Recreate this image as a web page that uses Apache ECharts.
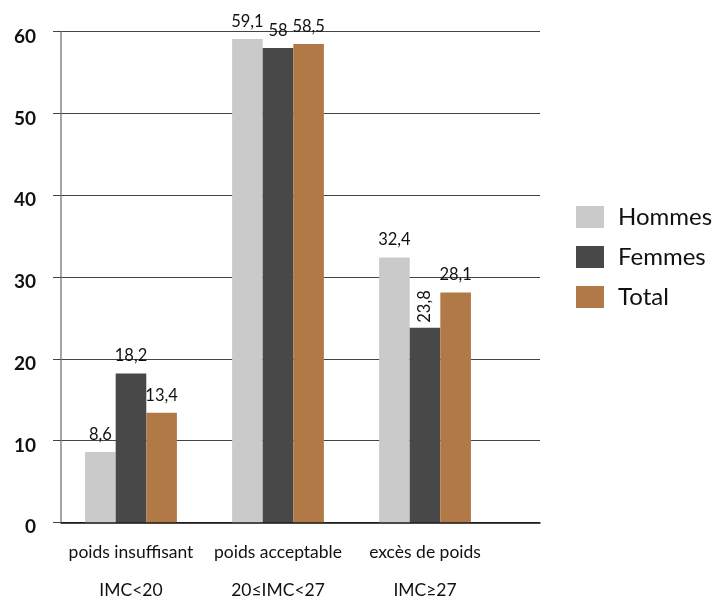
<!DOCTYPE html>
<html>
<head>
<meta charset="utf-8">
<script src="https://cdn.jsdelivr.net/npm/echarts@6/dist/echarts.min.js"></script>
<style>
  html, body { margin: 0; padding: 0; background: #fff; }
  #chart { width: 724px; height: 596px; }
</style>
</head>
<body>
<div id="chart"></div>
<script>
// categories (two lines: label + BMI range)
const categories = ["poids insuffisant", "poids acceptable", "excès de poids"];
const ranges = ["IMC<20", "20≤IMC<27", "IMC≥27"];
const seriesNames = ["Hommes", "Femmes", "Total"];
const hommes = [8.6, 59.1, 32.4];
const femmes = [18.2, 58, 23.8];
const total = [13.4, 58.5, 28.1];
const yTicks = [0, 10, 20, 30, 40, 50, 60];

const colors = ["#cacaca", "#484848", "#b07945"];
const font = "Lato, 'Open Sans', sans-serif";

// bars sit on a value x-axis so the plot can extend past the last group
function toPoints(values) {
  return values.map((v, i) => [i, v]);
}

function labelText(p) {
  return String(p.value[1]).replace(".", ",");
}

const allData = [hommes, femmes, total];
const series = seriesNames.map((name, s) => {
  const data = toPoints(allData[s]).map((pt, i) => {
    // the Femmes label of the last group is drawn vertically
    if (s === 1 && i === 2) {
      return {
        value: pt,
        label: { rotate: 90, align: "left", verticalAlign: "middle", distance: 9, offset: [-4, 0] },
      };
    }
    return pt;
  });
  return {
    name: name,
    type: "bar",
    barWidth: 30.6,
    barGap: "0%",
    itemStyle: { color: colors[s] },
    label: {
      show: true,
      position: "top",
      distance: 9,
      color: "#111",
      fontFamily: font,
      fontSize: 16.5,
      formatter: labelText,
    },
    data: data,
  };
});

const myChart = echarts.init(document.getElementById("chart"));
myChart.setOption({
  animation: false,
  grid: { left: 61, right: 184, top: 31.7, bottom: 73.7, outerBoundsMode: "none" },
  legend: {
    orient: "vertical",
    left: 576,
    top: 205,
    padding: 0,
    icon: "rect",
    itemWidth: 28,
    itemHeight: 22,
    itemGap: 16,
    data: seriesNames,
    textStyle: {
      color: "#111",
      fontFamily: font,
      fontSize: 24,
      padding: [0, 0, 0, 9],
    },
  },
  xAxis: {
    type: "value",
    min: -0.476,
    max: 2.782,
    splitLine: { show: false },
    axisTick: { show: false },
    axisLine: { show: true, onZero: false, lineStyle: { color: "#111", width: 1.5 } },
    axisLabel: {
      customValues: [0, 1, 2],
      margin: 20,
      color: "#111",
      fontFamily: font,
      fontSize: 17.5,
      lineHeight: 19.3,
      formatter: (v) => categories[v] + "\n\n" + ranges[v],
    },
  },
  yAxis: {
    type: "value",
    min: yTicks[0],
    max: yTicks[yTicks.length - 1],
    interval: 10,
    axisLine: { show: true, onZero: false, lineStyle: { color: "#888", width: 1.5 } },
    axisTick: { show: true, inside: false, length: 8, lineStyle: { color: "#444" } },
    splitLine: { show: true, lineStyle: { color: "#444", width: 1 } },
    axisLabel: {
      margin: 25,
      color: "#111",
      fontFamily: font,
      fontWeight: "bold",
      fontSize: 19,
      verticalAlign: "top",
      lineHeight: 10,
    },
  },
  series: series,
});
</script>
</body>
</html>
